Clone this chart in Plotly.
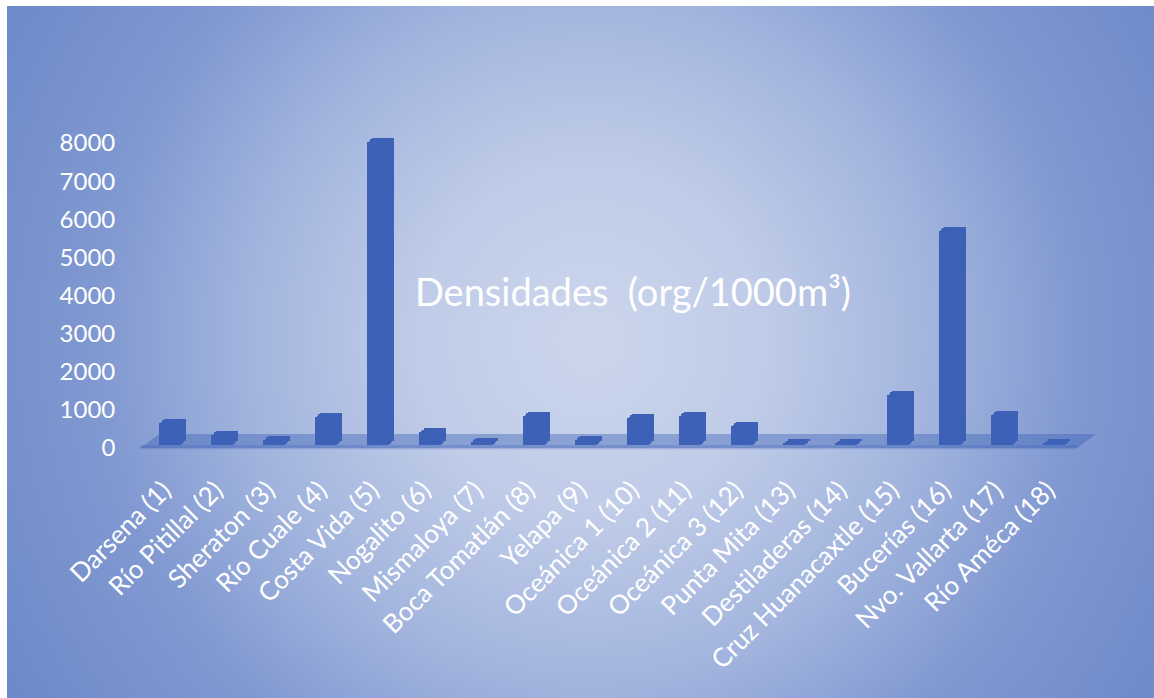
import base64
import plotly.graph_objects as go

# Sampling sites along the bay
sites = [
    "Darsena (1)", "Río Pitillal (2)", "Sheraton (3)", "Río Cuale (4)",
    "Costa Vida (5)", "Nogalito (6)", "Mismaloya (7)", "Boca Tomatlán (8)",
    "Yelapa (9)", "Oceánica 1 (10)", "Oceánica 2 (11)", "Oceánica 3 (12)",
    "Punta Mita (13)", "Destiladeras (14)", "Cruz Huanacaxtle (15)",
    "Bucerías (16)", "Nvo. Vallarta (17)", "Río Améca (18)",
]
# Densities (org/1000 m3)
densities = [575, 260, 130, 730, 7950, 330, 90, 760, 140, 710, 770, 500,
             40, 40, 1310, 5620, 790, 30]
y_ticks = [0, 1000, 2000, 3000, 4000, 5000, 6000, 7000, 8000]

W, H = 1154, 698
BAR = "#3C61B6"
FONT = "Lato"

# pseudo-3D geometry (x in category units, y in value units)
FRONT_OFFSET = -0.26
FRONT_W = 0.423
DEPTH_X = 0.096
DEPTH_Y = 105
BASE = 79

# radial gradient backdrop with a thin white frame
svg = f"""<svg xmlns='http://www.w3.org/2000/svg' width='{W}' height='{H}'>
<defs><radialGradient id='g' gradientUnits='userSpaceOnUse' cx='590' cy='340' r='680'>
<stop offset='0' stop-color='#CBD6EC'/>
<stop offset='0.25' stop-color='#C0CCE8'/>
<stop offset='0.5' stop-color='#A3B5DE'/>
<stop offset='0.72' stop-color='#8199D1'/>
<stop offset='1' stop-color='#6C89C9'/>
</radialGradient></defs>
<rect width='{W}' height='{H}' fill='white'/>
<rect x='7' y='6' width='{W-7}' height='{H-6}' fill='url(#g)'/>
</svg>"""
bg_src = "data:image/svg+xml;base64," + base64.b64encode(svg.encode()).decode()

x = list(range(len(sites)))
fig = go.Figure()

# stack of offset boxes from back to front gives the extruded bar look
steps = [1.0, 2 / 3, 1 / 3, 0.0]
for t in steps:
    fig.add_trace(go.Bar(
        x=x, y=densities,
        base=[BASE + t * DEPTH_Y] * len(x),
        offset=FRONT_OFFSET + t * DEPTH_X,
        width=FRONT_W,
        marker=dict(color=BAR, line=dict(width=0)),
        hoverinfo="skip", showlegend=False,
    ))

# floor slab under the bars
x0, x1 = -0.62, 17.40
dxf, dyf = 0.36, 367
floor_path = (f"M {x0},0 L {x1},0 L {x1 + dxf},{dyf} "
              f"L {x0 + dxf},{dyf} Z")
edge_path = (f"M {x0},-30 L {x1},-30 L {x1},80 L {x0},80 Z")

# plot-area placement in pixels
left_px, right_px = 136.1, 1095.5
xr = [-0.7, 17.75]
top_px, bot_px = 100, 460
ppu = (448 - 143) / 8000.0
y_lo = -(bot_px - 448) / ppu
y_hi = 8000 + (143 - top_px) / ppu

fig.update_layout(
    width=W, height=H,
    margin=dict(l=0, r=0, t=0, b=0),
    paper_bgcolor="rgba(0,0,0,0)",
    plot_bgcolor="rgba(0,0,0,0)",
    barmode="overlay",
    bargap=0,
    showlegend=False,
    font=dict(family=FONT, color="white"),
    images=[dict(source=bg_src, xref="paper", yref="paper", x=0, y=1,
                 sizex=1, sizey=1, xanchor="left", yanchor="top",
                 sizing="stretch", layer="below")],
    shapes=[
        dict(type="path", path=floor_path, xref="x", yref="y",
             fillcolor="rgba(60,97,182,0.42)", line=dict(width=0),
             layer="below"),
        dict(type="path", path=edge_path, xref="x", yref="y",
             fillcolor="rgba(60,97,182,0.25)", line=dict(width=0),
             layer="below"),
    ],
    title=dict(
        text="Densidades\u00a0 (org/1000m³)",
        x=633 / W, y=1 - 293 / H, xanchor="center", yanchor="middle",
        xref="paper", yref="container",
        font=dict(family=FONT, size=38, color="white"),
    ),
    xaxis=dict(
        domain=[left_px / W, right_px / W],
        range=xr,
        tickmode="array", tickvals=x, ticktext=sites,
        tickangle=-45,
        tickfont=dict(family=FONT, size=26, color="white"),
        ticks="", ticklabelshift=-9, ticklabelstandoff=9,
        showgrid=False, zeroline=False, showline=False,
        automargin=False, fixedrange=True,
    ),
    yaxis=dict(
        domain=[1 - bot_px / H, 1 - top_px / H],
        range=[y_lo, y_hi],
        tickmode="array", tickvals=y_ticks,
        ticktext=[str(v) for v in y_ticks],
        tickfont=dict(family=FONT, size=24, color="white"),
        ticks="outside", ticklen=15, tickcolor="rgba(0,0,0,0)",
        showgrid=False, zeroline=False, showline=False,
        automargin=False, fixedrange=True,
    ),
)

fig.write_html("out.html", config={"displayModeBar": False})
